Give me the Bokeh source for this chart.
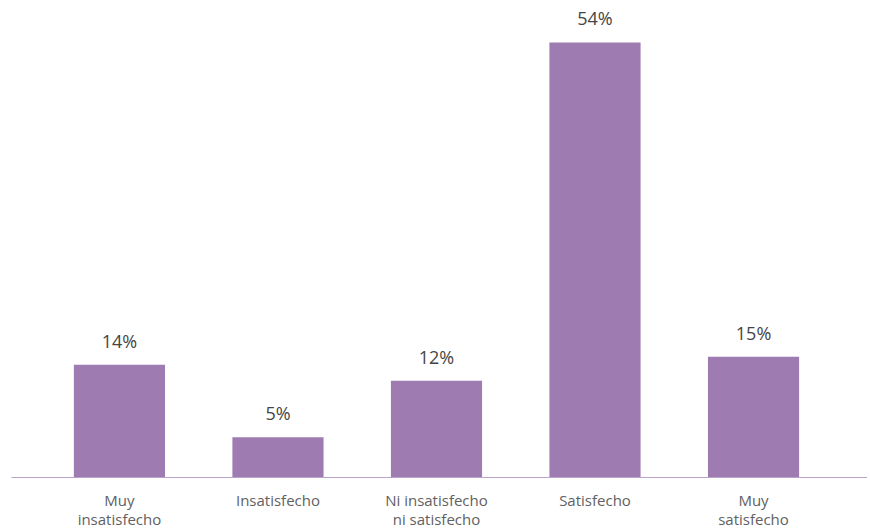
from bokeh.plotting import figure
from bokeh.models import ColumnDataSource, FixedTicker
from bokeh.core.properties import value
from bokeh.embed import file_html
from bokeh.resources import INLINE

categories = ["Muy\ninsatisfecho", "Insatisfecho", "Ni insatisfecho\nni satisfecho", "Satisfecho", "Muy\nsatisfecho"]
values = [14, 5, 12, 54, 15]
labels = ["14%", "5%", "12%", "54%", "15%"]

positions = list(range(len(categories)))
src = ColumnDataSource(dict(x=positions, top=values, label=labels))

p = figure(frame_width=856, frame_height=477, output_backend="svg", toolbar_location=None,
           x_range=(-0.681, 4.719), y_range=(0, 59.21),
           min_border_left=11, min_border_right=0, min_border_top=0, min_border_bottom=0)
p.outline_line_color = None
p.background_fill_color = "white"
p.border_fill_color = "white"
p.grid.visible = False
p.yaxis.visible = False

p.vbar(x="x", top="top", width=0.575, bottom=0, source=src, fill_color="#9e7bb0", line_color=None)
p.text(x="x", y="top", text="label", source=src, text_align="center", text_baseline="middle",
       y_offset=-24, text_font=value("Open Sans"), text_font_size="18px", text_color="#454545")

ax = p.xaxis[0]
ax.ticker = FixedTicker(ticks=positions)
ax.major_label_overrides = {i: c for i, c in enumerate(categories)}
ax.major_tick_out = 0
ax.major_tick_in = 0
ax.minor_tick_out = 0
ax.minor_tick_in = 0
ax.axis_line_color = "#b9a3c9"
ax.axis_line_width = 1
ax.major_label_standoff = 12
ax.major_label_text_font = "Open Sans"
ax.major_label_text_font_size = "15px"
ax.major_label_text_line_height = 0.95
ax.major_label_text_color = "#616161"

open("out.html", "w").write(file_html(p, INLINE))
